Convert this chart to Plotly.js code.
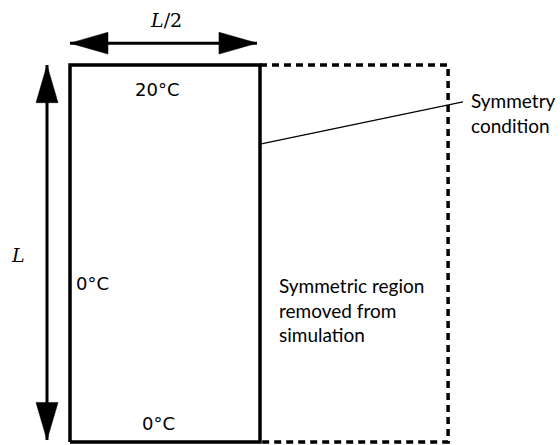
<!DOCTYPE html>
<html>
<head>
<meta charset="utf-8">
<script src="https://cdn.plot.ly/plotly-3.0.1.min.js"></script>
<style>html,body{margin:0;padding:0;background:#fff}#chart{width:560px;height:445px}</style>
</head>
<body>
<div id="chart"></div>
<script>
// Diagram data in units of L (domain width L/2, height L)
var domainX = [0, 0.5, 0.5, 0, 0];
var domainY = [0, 0, 1, 1, 0];
var mirrorX = [0.5, 0.995, 0.995, 0.5];
var mirrorY = [1, 1, 0, 0];
var heightArrowX = [-0.0605, -0.0605];
var heightArrowY = [0.005, 1.0];
var widthArrowX = [0.0, 0.492];
var widthArrowY = [1.058, 1.058];
var leaderX = [0.5, 1.034];
var leaderY = [0.790, 0.902];
var labelText = ["<i>L</i>/2", "<i>L</i>", "20°C", "0°C", "0°C"];
var labelX = [0.253, -0.137, 0.229, 0.0105, 0.234];
var labelY = [1.119, 0.495, 0.934, 0.420, 0.049];
var noteText = ["Symmetry<br>condition", "Symmetric region<br>removed from<br>simulation"];
var noteX = [1.050, 0.545];
var noteY = [0.873, 0.350];

var HL = 0.1, HW = 0.029; // arrowhead length / half-width
function head(tx, ty, dx, dy) {
  var bx = tx - dx * HL, by = ty - dy * HL;
  var px = -dy * HW, py = dx * HW;
  return {x: [tx, bx + px, bx - px, tx], y: [ty, by + py, by - py, ty]};
}
var traces = [];
traces.push({x: domainX, y: domainY, mode: 'lines', line: {color: '#000', width: 3.5}, hoverinfo: 'skip'});
traces.push({x: mirrorX, y: mirrorY, mode: 'lines', line: {color: '#000', width: 3.5, dash: '7px,5px'}, hoverinfo: 'skip'});
traces.push({x: heightArrowX, y: heightArrowY, mode: 'lines', line: {color: '#000', width: 3}, hoverinfo: 'skip'});
traces.push({x: widthArrowX, y: widthArrowY, mode: 'lines', line: {color: '#000', width: 3}, hoverinfo: 'skip'});
traces.push({x: leaderX, y: leaderY, mode: 'lines', line: {color: '#000', width: 1.2}, hoverinfo: 'skip'});
var heads = [
  head(heightArrowX[1], heightArrowY[1], 0, 1),
  head(heightArrowX[0], heightArrowY[0], 0, -1),
  head(widthArrowX[0], widthArrowY[0], -1, 0),
  head(widthArrowX[1], widthArrowY[1], 1, 0)
];
heads.forEach(function(h){
  traces.push({x: h.x, y: h.y, mode: 'lines', fill: 'toself', fillcolor: '#000', line: {color: '#000', width: 0.5}, hoverinfo: 'skip'});
});

var ann = [];
labelText.forEach(function(t, i){
  var isMath = t.indexOf('<i>') >= 0;
  ann.push({x: labelX[i], y: labelY[i], xref: 'x', yref: 'y', text: t, showarrow: false,
    xanchor: (i === 3) ? 'left' : 'center', yanchor: 'middle',
    font: isMath ? {family: 'DejaVu Serif', size: 19, color: '#000'} : {family: 'DejaVu Sans', size: 18, color: '#000'}});
});
noteText.forEach(function(t, i){
  ann.push({x: noteX[i], y: noteY[i], xref: 'x', yref: 'y', text: t, showarrow: false,
    xanchor: 'left', yanchor: 'middle', align: 'left',
    font: {family: 'Lato', size: 19, color: '#000'}});
});

var layout = {
  width: 560, height: 445, margin: {l: 0, r: 0, t: 0, b: 0},
  paper_bgcolor: '#fff', plot_bgcolor: '#fff', showlegend: false,
  xaxis: {range: [-70/380, 490/380], visible: false, fixedrange: true},
  yaxis: {range: [-3/377, 442/377], visible: false, fixedrange: true},
  annotations: ann
};
Plotly.newPlot('chart', traces, layout, {displayModeBar: false, staticPlot: true});
</script>
</body>
</html>
